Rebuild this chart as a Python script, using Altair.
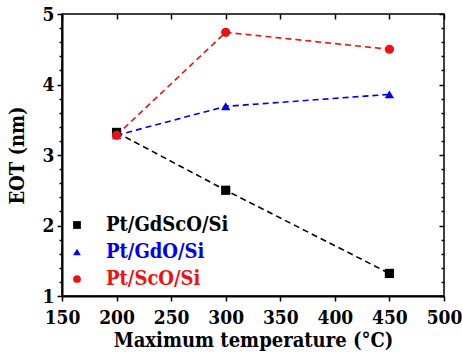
import altair as alt
import pandas as pd

temps = [200, 300, 450]
series_names = ["Pt/GdScO/Si", "Pt/GdO/Si", "Pt/ScO/Si"]
eot_gdsco = [3.32, 2.50, 1.32]
eot_gdo = [3.28, 3.69, 3.86]
eot_sco = [3.28, 4.74, 4.50]
colors = ["#000000", "#0000ee", "#ee1111"]
shapes = ["square", "triangle-up", "circle"]

x_major = [150, 200, 250, 300, 350, 400, 450, 500]
y_major = [1, 2, 3, 4, 5]
y_minor = [1.2, 1.4, 1.6, 1.8, 2.2, 2.4, 2.6, 2.8, 3.2, 3.4, 3.6, 3.8, 4.2, 4.4, 4.6, 4.8]

rows = []
for name, vals in zip(series_names, [eot_gdsco, eot_gdo, eot_sco]):
    for t, v in zip(temps, vals):
        rows.append({"series": name, "temp": t, "eot": v})
df = pd.DataFrame(rows)

FONT = "DejaVu Serif Condensed"
LFONT = "DejaVu Serif Condensed"
xscale = alt.Scale(domain=[150, 500], nice=False, zero=False)
yscale = alt.Scale(domain=[1, 5], nice=False, zero=False)
cscale = alt.Scale(domain=series_names, range=colors)
sscale = alt.Scale(domain=series_names, range=shapes)

label_expr = ("datum.label == 'Pt/GdScO/Si' ? '#000000' : "
              "(datum.label == 'Pt/GdO/Si' ? '#0000ee' : '#ee1111')")

leg = alt.Legend(title=None, orient="none", legendX=5, legendY=201,
                 symbolSize=60, labelFontSize=20,
                 labelFont=LFONT, labelFontWeight="bold",
                 labelOffset=19, rowPadding=7, padding=0,
                 labelColor=alt.ExprRef(label_expr),
                 symbolOpacity=1, symbolStrokeWidth=0, symbolType="circle")

base = alt.Chart(df)

lines = base.mark_line(strokeDash=[6, 4], strokeWidth=1.6).encode(
    x=alt.X("temp:Q", scale=xscale,
            axis=alt.Axis(values=x_major, title="Maximum temperature (°C)",
                          tickSize=5, labelPadding=7, titlePadding=3,
                          labelFlush=False, labelOverlap=False)),
    y=alt.Y("eot:Q", scale=yscale,
            axis=alt.Axis(values=y_major, title="EOT (nm)", tickSize=5,
                          labelPadding=3, titlePadding=15)),
    color=alt.Color("series:N", scale=cscale, legend=leg),
    detail="series:N",
)

points = base.mark_point(filled=True, opacity=1, size=85).encode(
    x=alt.X("temp:Q", scale=xscale, axis=None),
    y=alt.Y("eot:Q", scale=yscale, axis=None),
    color=alt.Color("series:N", scale=cscale, legend=leg),
    shape=alt.Shape("series:N", scale=sscale, legend=leg),
)

def tick_layer(xaxis, yaxis):
    return base.mark_point(opacity=0).encode(
        x=alt.X("temp:Q", scale=xscale, axis=xaxis),
        y=alt.Y("eot:Q", scale=yscale, axis=yaxis),
    )

left_minor = tick_layer(None, alt.Axis(values=y_minor, orient="left", tickSize=3,
                                        labels=False, domain=False, title=None))
top_major = tick_layer(alt.Axis(values=x_major, orient="top", tickSize=5, offset=-5,
                                labels=False, domain=False, title=None), None)
right_major = tick_layer(None, alt.Axis(values=y_major, orient="right", tickSize=5, offset=-5,
                                         labels=False, domain=False, title=None))
right_minor = tick_layer(None, alt.Axis(values=y_minor, orient="right", tickSize=3, offset=-3,
                                         labels=False, domain=False, title=None))

chart = alt.layer(lines, points, left_minor, top_major, right_major, right_minor).resolve_axis(
    x="independent", y="independent"
).properties(
    width=382, height=282,
    autosize=alt.AutoSizeParams(type="none"),
    padding={"left": 62, "top": 14, "right": 18, "bottom": 64},
).configure_view(
    stroke="#000000", strokeWidth=1.5
).configure_axis(
    domainColor="#000000", domainWidth=2, tickColor="#000000", tickWidth=1.5,
    labelFont=FONT, labelFontWeight="bold", labelFontSize=19, labelColor="#000000",
    titleFont=FONT, titleFontWeight="bold", titleFontSize=20, titleColor="#000000",
    grid=False,
)

chart.save("out.html", embed_options={"renderer": "svg", "actions": False})
